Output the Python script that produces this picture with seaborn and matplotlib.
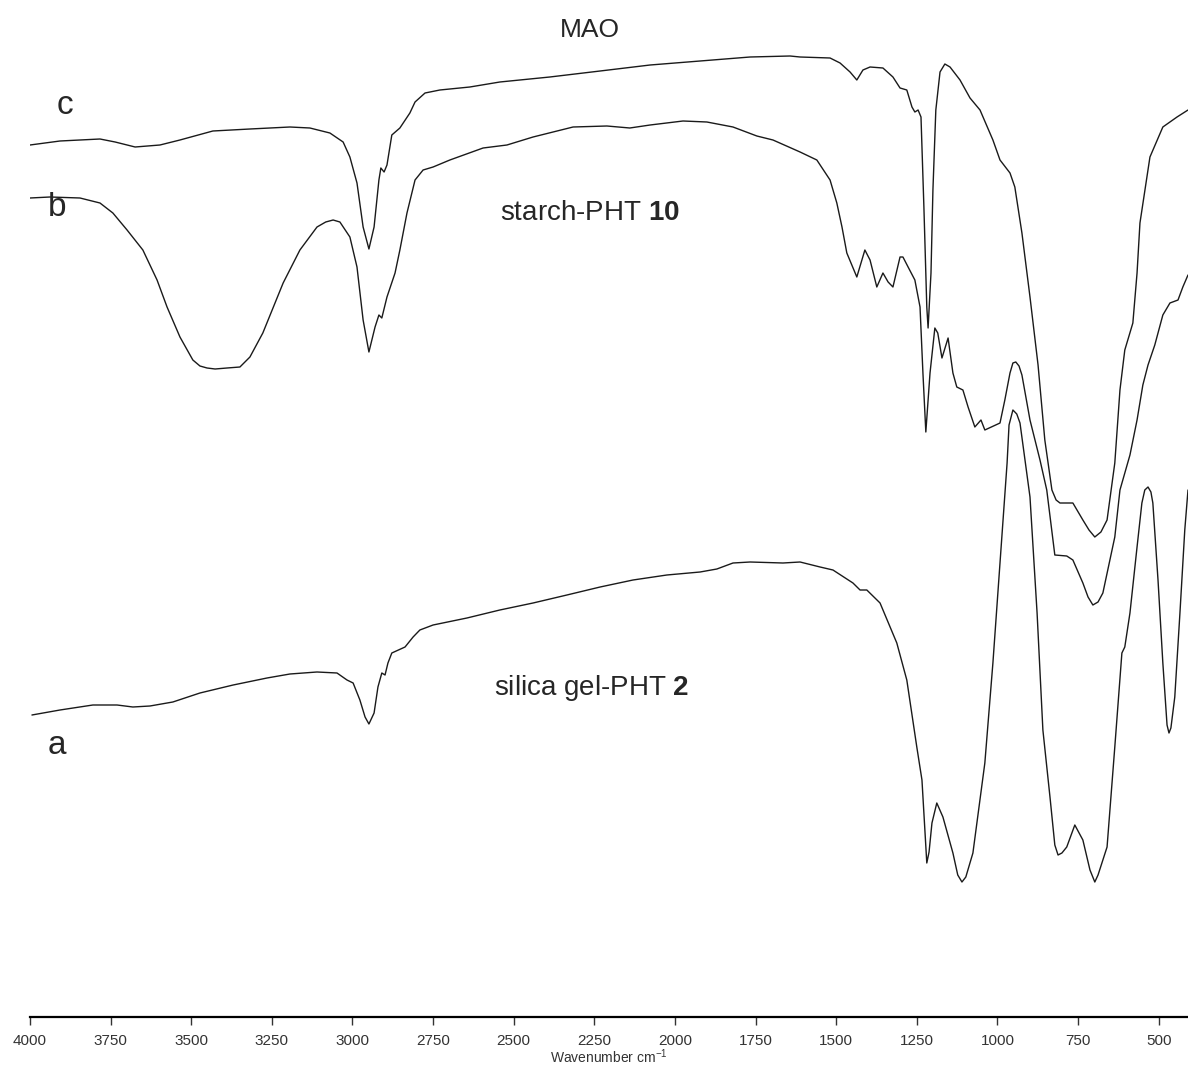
import matplotlib
matplotlib.use("Agg")
import matplotlib.pyplot as plt
import seaborn as sns
import pandas as pd

# ---- data (wavenumber cm-1, relative transmittance) ----
wn_c = [4000, 3907, 3783, 3736, 3674, 3597, 3535, 3433, 3318, 3194, 3132, 3070, 3029, 3008,
        2986, 2967, 2949, 2933, 2918, 2912, 2902, 2893, 2878, 2853, 2822, 2806, 2775, 2729,
        2636, 2543, 2388, 2232, 2077, 1922, 1767, 1643, 1612, 1519, 1488, 1457, 1436, 1417,
        1395, 1355, 1324, 1302, 1281, 1265, 1256, 1246, 1237, 1228, 1219, 1215, 1206, 1200,
        1191, 1178, 1163, 1147, 1116, 1085, 1054, 1014, 992, 961, 946, 924, 899, 874, 853,
        831, 818, 806, 766, 735, 716, 698, 679, 660, 636, 620, 605, 580, 567, 558, 527, 487,
        443, 409]
t_c = [87.2, 87.6, 87.8, 87.5, 87.0, 87.2, 87.7, 88.6, 88.8, 89.0, 88.9, 88.4, 87.5, 86.0,
       83.4, 79.0, 76.8, 79.0, 83.7, 84.9, 84.5, 85.2, 88.2, 88.9, 90.4, 91.5, 92.4, 92.7,
       93.0, 93.5, 94.0, 94.6, 95.2, 95.6, 96.0, 96.1, 96.0, 95.9, 95.4, 94.5, 93.7, 94.7,
       95.0, 94.9, 94.0, 92.9, 92.7, 91.0, 90.5, 90.7, 90.0, 81.0, 71.0, 68.9, 74.4, 82.7,
       90.7, 94.5, 95.3, 95.0, 93.7, 91.9, 90.7, 87.7, 85.7, 84.4, 83.0, 78.4, 72.0, 65.2, 57.7,
       52.7, 51.7, 51.4, 51.4, 49.7, 48.7, 48.0, 48.5, 49.7, 55.4, 62.7, 66.7, 69.4, 74.4, 79.4,
       86.0, 89.0, 90.0, 90.7]

wn_b = [4000, 3938, 3845, 3783, 3743, 3699, 3650, 3606, 3575, 3535, 3495, 3473, 3451, 3426,
        3389, 3349, 3318, 3278, 3215, 3163, 3110, 3083, 3060, 3039, 3008, 2986, 2967, 2949,
        2930, 2918, 2909, 2893, 2868, 2853, 2831, 2806, 2781, 2750, 2698, 2595, 2521, 2440,
        2316, 2211, 2140, 2077, 1975, 1901, 1820, 1746, 1696, 1612, 1560, 1519, 1498, 1482,
        1467, 1436, 1411, 1395, 1374, 1355, 1339, 1324, 1302, 1293, 1277, 1256, 1240, 1231,
        1222, 1209, 1194, 1185, 1172, 1153, 1138, 1126, 1107, 1091, 1070, 1051, 1039, 992, 977,
        961, 952, 943, 933, 924, 899, 868, 847, 822, 785, 766, 735, 719, 704, 688, 673, 636,
        620, 589, 567, 549, 533, 512, 487, 465, 440, 425, 409]
t_b = [81.9, 82.0, 81.9, 81.4, 80.4, 78.7, 76.7, 73.7, 71.0, 68.0, 65.7, 65.1, 64.9, 64.8,
       64.9, 65.0, 66.0, 68.4, 73.4, 76.7, 79.0, 79.5, 79.7, 79.5, 78.0, 75.0, 69.7, 66.5,
       69.0, 70.2, 69.9, 72.0, 74.4, 76.7, 80.4, 83.7, 84.7, 85.0, 85.7, 86.9, 87.2, 88.0,
       89.0, 89.1, 88.9, 89.2, 89.6, 89.5, 89.0, 88.1, 87.7, 86.5, 85.7, 83.7, 81.4, 79.0,
       76.4, 74.0, 76.7, 75.7, 73.0, 74.4, 73.5, 73.0, 76.0, 76.0, 75.0, 73.7, 71.0, 64.4,
       58.5, 64.4, 68.9, 68.4, 65.9, 67.9, 64.4, 63.0, 62.7, 61.0, 59.0, 59.7, 58.7, 59.4, 61.7,
       64.4, 65.4, 65.5, 65.1, 64.2, 59.7, 55.7, 52.7, 46.2, 46.1, 45.7, 43.4, 42.0, 41.2, 41.5,
       42.4, 48.0, 52.7, 56.2, 59.7, 63.2, 65.2, 67.2, 70.2, 71.4, 71.7, 73.0, 74.2]

wn_a = [3994, 3907, 3805, 3730, 3681, 3628, 3557, 3473, 3370, 3265, 3194, 3110, 3048, 3017,
        2998, 2977, 2961, 2949, 2933, 2921, 2909, 2899, 2890, 2878, 2837, 2812, 2791, 2750,
        2645, 2543, 2440, 2335, 2232, 2130, 2025, 1922, 1870, 1820, 1767, 1665, 1612, 1550,
        1510, 1448, 1426, 1405, 1364, 1312, 1281, 1250, 1234, 1219, 1212, 1203, 1188, 1169,
        1138, 1123, 1110, 1098, 1076, 1039, 1014, 992, 970, 964, 952, 940, 930, 899, 877, 859,
        837, 822, 812, 800, 785, 760, 735, 713, 698, 688, 660, 636, 614, 605, 589, 567, 552,
        543, 533, 524, 518, 502, 487, 474, 468, 462, 450, 434, 419, 409]
t_a = [30.2, 30.7, 31.2, 31.2, 31.0, 31.1, 31.5, 32.4, 33.2, 33.9, 34.3, 34.5, 34.4, 33.7,
       33.4, 31.7, 30.0, 29.3, 30.4, 33.0, 34.4, 34.2, 35.4, 36.4, 37.0, 38.0, 38.7, 39.2,
       39.9, 40.7, 41.4, 42.2, 43.0, 43.7, 44.2, 44.5, 44.8, 45.4, 45.5, 45.4, 45.5, 45.0,
       44.7, 43.4, 42.7, 42.7, 41.4, 37.4, 33.7, 27.0, 23.7, 15.4, 16.5, 19.4, 21.4, 20.0,
       16.4, 14.2, 13.5, 14.0, 16.4, 25.4, 35.4, 45.4, 55.4, 59.2, 60.7, 60.3, 59.4, 52.0, 40.4,
       28.7, 22.0, 17.2, 16.2, 16.4, 17.0, 19.2, 17.7, 14.7, 13.5, 14.2, 17.0, 27.0, 36.4, 37.0,
       40.4, 47.0, 51.4, 52.7, 53.0, 52.5, 51.4, 43.7, 35.4, 29.2, 28.4, 28.9, 32.0, 40.4,
       48.7, 52.7]

tick_values = [4000, 3750, 3500, 3250, 3000, 2750, 2500, 2250, 2000, 1750, 1500, 1250, 1000, 750, 500]
curve_labels = ["c", "b", "a"]
sample_names = ["starch-PHT", "silica gel-PHT"]
sample_numbers = ["10", "2"]
title_text = "MAO"

# ---- styling ----
sns.set_theme(style="white")
plt.rcParams["font.family"] = ["Liberation Sans", "DejaVu Sans"]
plt.rcParams["mathtext.fontset"] = "custom"
plt.rcParams["mathtext.rm"] = "Liberation Sans"
plt.rcParams["mathtext.bf"] = "Liberation Sans:bold"

fig = plt.figure(figsize=(11.88, 10.68), dpi=100)
ax = fig.add_axes([30 / 1188, 51 / 1068, 1158 / 1188, 1017 / 1068])

frames = []
for name, wn, t in (("c", wn_c, t_c), ("b", wn_b, t_b), ("a", wn_a, t_a)):
    frames.append(pd.DataFrame({"wn": wn, "T": t, "sample": name}))
df = pd.concat(frames, ignore_index=True)

for name in ["c", "b", "a"]:
    sub = df[df["sample"] == name]
    sns.lineplot(data=sub, x="wn", y="T", sort=False, estimator=None,
                 color="#1a1a1a", linewidth=1.0, ax=ax)

ax.set_xlim(4000, 409)
ax.set_ylim(0, 101.7)

for s in ["top", "left", "right"]:
    ax.spines[s].set_visible(False)
ax.spines["bottom"].set_linewidth(1.6)
ax.spines["bottom"].set_color("black")

ax.set_xticks(tick_values)
ax.set_xticklabels([str(v) for v in tick_values], fontsize=11, color="#333333")
ax.tick_params(axis="x", direction="out", length=6, width=1.0, pad=6, colors="#333333",
               bottom=True)
ax.tick_params(axis="y", left=False, labelleft=False)
ax.set_ylabel("")
ax.set_xlabel("Wavenumber cm$^{-1}$", fontsize=10, color="#333333", labelpad=0)

# annotations
ax.text(3891, 91.2, curve_labels[0], fontsize=24, ha="center", va="center")
ax.text(3916, 81.0, curve_labels[1], fontsize=24, ha="center", va="center")
ax.text(3916, 27.2, curve_labels[2], fontsize=24, ha="center", va="center")
ax.text(2264, 80.4, sample_names[0] + r" $\mathbf{" + sample_numbers[0] + "}$",
        fontsize=20, ha="center", va="center")
ax.text(2257, 32.9, sample_names[1] + r" $\mathbf{" + sample_numbers[1] + "}$",
        fontsize=20, ha="center", va="center")
ax.text(2264, 98.7, title_text, fontsize=19, ha="center", va="center")

fig.savefig("out.png", dpi=100)
